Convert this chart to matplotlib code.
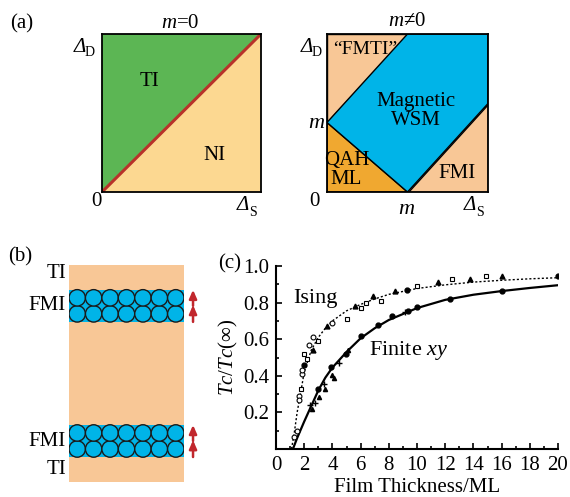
import matplotlib
matplotlib.use("Agg")
import matplotlib.pyplot as plt
from matplotlib.patches import Polygon, Rectangle, Circle
from matplotlib.ticker import MultipleLocator

plt.rcParams["font.family"] = ["Liberation Serif", "DejaVu Serif"]
plt.rcParams["mathtext.fontset"] = "custom"
plt.rcParams["mathtext.rm"] = "Liberation Serif"
plt.rcParams["mathtext.it"] = "Liberation Serif:italic"

W, H = 570, 497

# colours
GREEN = "#5cb654"
YELLOW = "#fcd891"
PEACH = "#f8c796"
BLUE = "#00b4e8"
ORANGE = "#f0a830"
RED = "#b8322a"

# (a) right panel boundaries (fractions of the axes)
m_y = 0.44
m_x = 0.5
fmi_right = 0.56

# (c) data
ising_circ_x = [1.30, 1.47, 1.63, 1.65, 1.84, 1.87, 2.36, 2.6, 4.0]
ising_circ_y = [0.067, 0.10, 0.29, 0.27, 0.41, 0.43, 0.57, 0.61, 0.69]
ising_sq_x = [1.75, 2.0, 2.18, 3.0, 5.0, 6.0, 6.4, 7.45, 9.98, 12.46, 14.9]
ising_sq_y = [0.33, 0.52, 0.49, 0.59, 0.71, 0.77, 0.80, 0.81, 0.89, 0.927, 0.945]
ising_tri_x = [2.6, 3.6, 5.6, 6.9, 8.44, 11.5, 13.76, 16.0]
ising_tri_y = [0.54, 0.67, 0.78, 0.836, 0.865, 0.914, 0.93, 0.945]
ising_dot_x = [1.99, 9.3, 20.0]
ising_dot_y = [0.46, 0.87, 0.945]

xy_dot_x = [3.0, 3.88, 4.96, 6.03, 7.2, 8.2, 9.39, 9.98, 12.34, 16.0]
xy_dot_y = [0.33, 0.45, 0.52, 0.617, 0.677, 0.728, 0.756, 0.774, 0.82, 0.863]
xy_tri_x = [2.53, 3.07, 3.47, 4.0, 4.1, 5.13]
xy_tri_y = [0.217, 0.286, 0.326, 0.404, 0.386, 0.54]
xy_plus_x = [2.41, 2.77, 3.4, 4.47, 9.15]
xy_plus_y = [0.24, 0.25, 0.355, 0.468, 0.747]

ising_fit_x = [1.1, 1.3, 1.5, 1.8, 2.0, 2.5, 3, 3.5, 4, 5, 6, 7, 8, 10, 12, 14, 16, 18, 20]
ising_fit_y = [0.0, 0.09, 0.2, 0.33, 0.42, 0.54, 0.61, 0.66, 0.70, 0.755, 0.79, 0.82,
               0.845, 0.877, 0.897, 0.912, 0.922, 0.93, 0.936]
xy_fit_x = [1.2, 1.5, 2, 2.5, 3, 3.5, 4, 5, 6, 7, 8, 10, 12, 14, 16, 18, 20]
xy_fit_y = [0.0, 0.06, 0.15, 0.235, 0.32, 0.39, 0.445, 0.53, 0.605, 0.66, 0.705,
            0.77, 0.815, 0.843, 0.863, 0.88, 0.895]


def box(l, t, r, b):
    return [l / W, 1 - b / H, (r - l) / W, (b - t) / H]


def fig_text(x, y, s, **kw):
    fig.text(x / W, 1 - y / H, s, **kw)


def delta_label(x, y, sub):
    # italic capital delta with an upright subscript
    fig_text(x, y, "\u0394", fontsize=15, style="italic", ha="center", va="center")
    fig_text(x + 10, y + 6, sub, fontsize=10, ha="center", va="center")


fig = plt.figure(figsize=(W / 100, H / 100), dpi=100)
fig.patch.set_facecolor("white")

# ---- (a) left: m=0
ax1 = fig.add_axes(box(102, 34, 261, 192))
ax1.add_patch(Polygon([(0, 0), (0, 1), (1, 1)], closed=True, facecolor=GREEN, edgecolor="none"))
ax1.add_patch(Polygon([(0, 0), (1, 0), (1, 1)], closed=True, facecolor=YELLOW, edgecolor="none"))
ax1.plot([0, 1], [0, 1], color=RED, lw=2.2, solid_capstyle="round")
ax1.text(0.30, 0.70, "TI", fontsize=15, ha="center", va="center")
ax1.text(0.71, 0.23, "NI", fontsize=15, ha="center", va="center")

# ---- (a) right: m != 0
ax2 = fig.add_axes(box(327, 34, 488, 192))
ax2.add_patch(Polygon([(0, m_y), (0, 1), (m_x, 1)], closed=True, facecolor=PEACH,
                      edgecolor="black", lw=1))
ax2.add_patch(Polygon([(0, 0), (0, m_y), (m_x, 0)], closed=True, facecolor=ORANGE,
                      edgecolor="black", lw=1))
ax2.add_patch(Polygon([(m_x, 0), (1, 0), (1, fmi_right)], closed=True, facecolor=PEACH,
                      edgecolor="black", lw=1))
ax2.add_patch(Polygon([(0, m_y), (m_x, 1), (1, 1), (1, fmi_right), (m_x, 0)], closed=True,
                      facecolor=BLUE, edgecolor="black", lw=1))
ax2.text(0.24, 0.90, "\u201cFMTI\u201d", fontsize=14, ha="center", va="center")
ax2.text(0.55, 0.51, "Magnetic\nWSM", fontsize=15, ha="center", va="center", linespacing=1.0)
ax2.text(0.12, 0.14, "QAH\nML", fontsize=15, ha="center", va="center", linespacing=1.0)
ax2.text(0.81, 0.12, "FMI", fontsize=15, ha="center", va="center")

for ax in (ax1, ax2):
    ax.set_xlim(0, 1)
    ax.set_ylim(0, 1)
    ax.set_xticks([])
    ax.set_yticks([])
    for sp in ax.spines.values():
        sp.set_linewidth(1.3)
        sp.set_zorder(5)

fig_text(22, 24, "(a)", fontsize=15, ha="center", va="center")
fig_text(180, 24, "$m$=0", fontsize=15, ha="center", va="center")
delta_label(80, 47, "D")
fig_text(96, 202, "0", fontsize=15, ha="center", va="center")
delta_label(243, 206, "S")

fig_text(407, 22, "$m$\u22600", fontsize=15, ha="center", va="center")
delta_label(307, 47, "D")
fig_text(317, 123, "$m$", fontsize=16, ha="center", va="center")
fig_text(314, 201, "0", fontsize=15, ha="center", va="center")
fig_text(407, 210, "$m$", fontsize=16, ha="center", va="center")
delta_label(470, 206, "S")

# ---- (b) layered structure
n_atoms = 7
band_top = (9.74, 11.69)
band_bot = (1.52, 3.47)
stack_h = 13.2
axb = fig.add_axes(box(69, 265, 184, 482))
axb.add_patch(Rectangle((0, 0), n_atoms, stack_h, facecolor=PEACH, edgecolor="none"))
for y0, y1 in (band_top, band_bot):
    axb.add_patch(Rectangle((0, y0), n_atoms, y1 - y0, facecolor=BLUE, edgecolor="none"))
    r = (y1 - y0) / 4
    for row in range(2):
        for i in range(n_atoms):
            axb.add_patch(Circle((i + 0.5, y0 + r + row * 2 * r), 0.5, facecolor=BLUE,
                                 edgecolor="#1a1a1a", lw=1))
    mid = (y0 + y1) / 2
    for a, b in ((y0, mid + 0.05), (mid, y1)):
        axb.annotate("", xy=(n_atoms + 0.55, b), xytext=(n_atoms + 0.55, a),
                     annotation_clip=False,
                     arrowprops=dict(arrowstyle="-|>,head_width=0.22,head_length=0.5",
                                     color="#c1272d", lw=1.8, shrinkA=0, shrinkB=0))
axb.set_xlim(0, n_atoms)
axb.set_ylim(0, stack_h)
axb.axis("off")

fig_text(20, 257, "(b)", fontsize=15, ha="center", va="center")
fig_text(66, 273, "TI", fontsize=15, ha="right", va="center")
fig_text(66, 306, "FMI", fontsize=15, ha="right", va="center")
fig_text(66, 441, "FMI", fontsize=15, ha="right", va="center")
fig_text(66, 470, "TI", fontsize=15, ha="right", va="center")

# ---- (c) Tc vs thickness
axc = fig.add_axes(box(276, 266, 558, 449))
axc.plot(ising_fit_x, ising_fit_y, color="black", lw=1.0, ls=(0, (1.5, 1.5)))
axc.plot(xy_fit_x, xy_fit_y, color="black", lw=1.6)
mk = dict(ls="none", color="black", markersize=3.5)
axc.plot(ising_circ_x, ising_circ_y, marker="o", mfc="white", mew=0.8, **mk)
axc.plot(ising_sq_x, ising_sq_y, marker="s", mfc="white", mew=0.8, markersize=3.2,
         ls="none", color="black")
axc.plot(ising_tri_x, ising_tri_y, marker="^", **mk)
axc.plot(ising_dot_x, ising_dot_y, marker="o", **mk)
axc.plot(xy_dot_x, xy_dot_y, marker="o", **mk)
axc.plot(xy_tri_x, xy_tri_y, marker="^", markersize=3, ls="none", color="black")
axc.plot(xy_plus_x, xy_plus_y, marker="+", mew=1.0, markersize=4, ls="none", color="black")

axc.text(1.2, 0.825, "Ising", fontsize=16, ha="left", va="center")
axc.text(6.6, 0.54, "Finite $xy$", fontsize=16, ha="left", va="center")

axc.set_xlim(0, 20)
axc.set_ylim(0, 1.0)
axc.set_xticks(range(0, 21, 2))
axc.set_yticks([0.2, 0.4, 0.6, 0.8, 1.0])
axc.set_yticklabels(["0.2", "0.4", "0.6", "0.8", "1.0"])
axc.xaxis.set_minor_locator(MultipleLocator(1))
axc.yaxis.set_minor_locator(MultipleLocator(0.1))
axc.tick_params(which="both", direction="in", labelsize=15, width=1.2)
axc.tick_params(which="major", length=4, pad=5)
axc.tick_params(which="minor", length=2.5)
for s in ("top", "right"):
    axc.spines[s].set_visible(False)
for s in ("left", "bottom"):
    axc.spines[s].set_linewidth(1.5)
axc.set_xlabel("Film Thickness/ML", fontsize=15, labelpad=2)
axc.set_ylabel("$Tc/Tc$(\u221e)", fontsize=15, labelpad=2)

fig_text(230, 264, "(c)", fontsize=15, ha="center", va="center")

fig.savefig("out.png", dpi=100)
